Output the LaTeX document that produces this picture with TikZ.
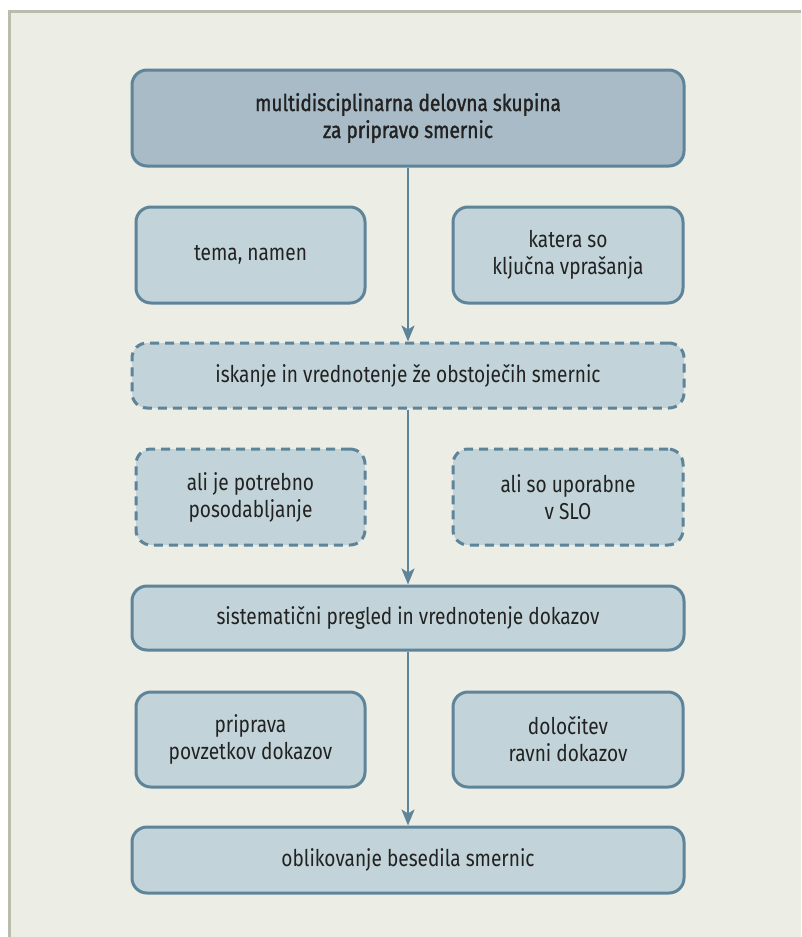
\documentclass[tikz,border=0pt]{standalone}
\usepackage{fontspec}
\setmainfont{Fira Sans}[FakeStretch=0.83]
\newfontfamily\medfont{Fira Sans}[FakeStretch=0.83,FakeBold=1.3]
\usetikzlibrary{arrows.meta}
\definecolor{panelbg}{HTML}{ECEDE5}
\definecolor{panelline}{HTML}{BBBCAD}
\definecolor{boxline}{HTML}{5E8499}
\definecolor{boxfill}{HTML}{C2D4D9}
\definecolor{topfill}{HTML}{A8BBC6}
\definecolor{txt}{HTML}{222222}
\tikzset{
  box/.style={draw=boxline, line width=3pt, fill=boxfill, rounded corners=15pt,
    align=center, inner sep=0pt, text=txt, font=\fontsize{23}{27}\selectfont},
  topbox/.style={box, fill=topfill, font=\medfont\fontsize{23}{27}\selectfont},
  dashbox/.style={box, dash pattern=on 9pt off 6pt},
  flow/.style={draw=boxline, line width=2.5pt, -{Stealth[length=16pt,width=13pt,inset=4pt]}},
}
\begin{document}
\begin{tikzpicture}[x=1pt,y=-1pt]
\useasboundingbox (0,0) rectangle (801,937);
\fill[white] (0,0) rectangle (801,937);
\fill[panelbg] (9.5,11) rectangle (801,937);
\draw[panelline, line width=3pt] (9.5,937) -- (9.5,11) -- (801,11);

\node[topbox, minimum width=552pt, minimum height=96pt] (top) at (408,118)
  {multidisciplinarna delovna skupina\\za pripravo smernic};
\node[box, minimum width=229pt, minimum height=96pt] (tema) at (250.5,255) {tema, namen};
\node[box, minimum width=230pt, minimum height=96pt] (katera) at (568,255) {katera so\\ključna vprašanja};
\node[dashbox, minimum width=552pt, minimum height=65pt] (iskanje) at (408,375.5)
  {iskanje in vrednotenje že obstoječih smernic};
\node[dashbox, minimum width=229pt, minimum height=96pt] (posod) at (250.5,497) {ali je potrebno\\posodabljanje};
\node[dashbox, minimum width=230pt, minimum height=96pt] (upor) at (568,497) {ali so uporabne\\v SLO};
\node[box, minimum width=552pt, minimum height=64pt] (sist) at (408,618)
  {sistematični pregled in vrednotenje dokazov};
\node[box, minimum width=229pt, minimum height=95pt] (pripr) at (250.5,739.5) {priprava\\povzetkov dokazov};
\node[box, minimum width=230pt, minimum height=95pt] (dolo) at (568,739.5) {določitev\\ravni dokazov};
\node[box, minimum width=552pt, minimum height=66pt] (oblik) at (408,860)
  {oblikovanje besedila smernic};

\draw[flow] (top) -- (iskanje);
\draw[flow] (iskanje) -- (sist);
\draw[flow] (sist) -- (oblik);
\end{tikzpicture}
\end{document}
